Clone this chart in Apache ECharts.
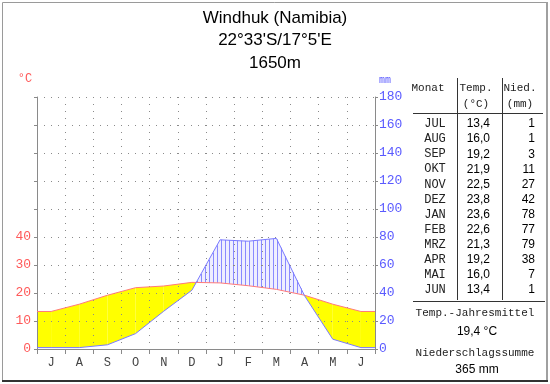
<!DOCTYPE html>
<html><head><meta charset="utf-8">
<script src="https://cdn.jsdelivr.net/npm/echarts@6/dist/echarts.min.js"></script>
<style>html,body{margin:0;padding:0;background:#fff}#c{width:550px;height:384px}</style>
</head><body><div id="c"></div>
<script>
// ---- data ----
const axisMonths = ['J','A','S','O','N','D','J','F','M','A','M','J'];
const tableMonths = ['JUL','AUG','SEP','OKT','NOV','DEZ','JAN','FEB','MRZ','APR','MAI','JUN'];
const temps = [13.4,16.0,19.2,21.9,22.5,23.8,23.6,22.6,21.3,19.2,16.0,13.4];
const precip = [1,1,3,11,27,42,78,77,79,38,7,1];
const tempTickLabels = [0,10,20,30,40];
const precipTickLabels = [0,20,40,60,80,100,120,140,160,180];
const titleLines = ['Windhuk (Namibia)', "22°33'S/17°5'E", '1650m'];

// ---- derived ----
const tempPts = [[0, temps[0]]].concat(temps.map((t,i)=>[i+0.5,t]), [[12, temps[11]]]);
const precPts = [[0, precip[0]]].concat(precip.map((p,i)=>[i+0.5,p]), [[12, precip[11]]]);
const fmt1 = v => v.toFixed(1).replace('.', ',');
const meanT = temps.reduce((a,b)=>a+b,0)/temps.length;
const sumP = precip.reduce((a,b)=>a+b,0);

const RED = '#ff5a5a', BLUE = '#5a5aff';
const MONO = '"Liberation Mono", monospace';
const SANS = '"Liberation Sans", Arial, sans-serif';

const chart = echarts.init(document.getElementById('c'), null, {renderer:'canvas'});

function fillItem(params, api){
  const i = params.dataIndex;
  const a = tempPts[i], b = tempPts[i+1], pa = precPts[i], pb = precPts[i+1];
  const T0 = api.coord([a[0], a[1]*2]), T1 = api.coord([b[0], b[1]*2]);
  const P0 = api.coord([pa[0], pa[1]]), P1 = api.coord([pb[0], pb[1]]);
  const d0 = a[1]*2 - pa[1], d1 = b[1]*2 - pb[1];
  const ch = [];
  const arid = pts => ch.push({type:'polygon', shape:{points:pts}, style:{fill:'#ffff00'}});
  const humid = (pL, pR, tL, tR) => {
    ch.push({type:'polygon', shape:{points:[pL, pR, tR, tL]}, style:{fill:'#eeeeff'}});
    const xL = pL[0], xR = pR[0];
    for (let px = Math.ceil(xL); px <= Math.floor(xR); px++) {
      if (px % 4 !== 1) continue;
      const t = (px - xL) / (xR - xL || 1);
      const yt = pL[1] + t*(pR[1]-pL[1]);
      const yb = tL[1] + t*(tR[1]-tL[1]);
      ch.push({type:'rect', shape:{x:px, y:yt, width:1, height:yb-yt}, style:{fill:'#8a8aff'}});
    }
  };
  if (d0 >= 0 && d1 >= 0) arid([T0, T1, P1, P0]);
  else if (d0 <= 0 && d1 <= 0) humid(P0, P1, T0, T1);
  else {
    const f = d0/(d0-d1);
    const C = [T0[0]+f*(T1[0]-T0[0]), T0[1]+f*(T1[1]-T0[1])];
    if (d0 > 0) { arid([T0, C, P0]); humid(C, P1, C, T1); }
    else { humid(P0, C, T0, C); arid([C, T1, P1]); }
  }
  return {type:'group', children: ch};
}

const dotted = {show:true, lineStyle:{color:'#8a8a8a', width:1, type:[1,6]}};

const graphics = [];
// frame
graphics.push({type:'line', shape:{x1:2.5,y1:2.5,x2:547,y2:2.5}, style:{stroke:'#9a9a9a', lineWidth:1}});
graphics.push({type:'line', shape:{x1:2.5,y1:2.5,x2:2.5,y2:381}, style:{stroke:'#9a9a9a', lineWidth:1}});
graphics.push({type:'line', shape:{x1:547,y1:2,x2:547,y2:382}, style:{stroke:'#a0a0a0', lineWidth:2}});
graphics.push({type:'line', shape:{x1:2,y1:381,x2:548,y2:381}, style:{stroke:'#333', lineWidth:2}});
// title
titleLines.forEach((t,i)=>graphics.push({type:'text', style:{text:t, x:275, y:18+i*22.5, textAlign:'center', textVerticalAlign:'middle', font:'17px '+SANS, fill:'#000'}}));
// axis unit names
graphics.push({type:'text', style:{text:'°C', x:25, y:79, textAlign:'center', textVerticalAlign:'middle', font:'12px '+MONO, fill:RED}});
graphics.push({type:'text', style:{text:'mm', x:385, y:80, textAlign:'center', textVerticalAlign:'middle', font:'10px '+MONO, fill:BLUE}});
// table
const tl = {stroke:'#333', lineWidth:1};
graphics.push({type:'line', shape:{x1:457.5,y1:78,x2:457.5,y2:300}, style:tl});
graphics.push({type:'line', shape:{x1:502.5,y1:78,x2:502.5,y2:300}, style:tl});
graphics.push({type:'line', shape:{x1:413,y1:113.5,x2:543,y2:113.5}, style:tl});
graphics.push({type:'line', shape:{x1:413,y1:301.5,x2:545,y2:301.5}, style:tl});
const hdr = (t,x,y)=>graphics.push({type:'text', style:{text:t, x:x, y:y, textAlign:'center', textVerticalAlign:'middle', font:'11px '+MONO, fill:'#222'}});
hdr('Monat',428,88); hdr('Temp.',476,88); hdr('(°C)',476,104); hdr('Nied.',520,88); hdr('(mm)',520,104);
tableMonths.forEach((m,i)=>{
  const y = 124 + i*15.1;
  graphics.push({type:'text', style:{text:m, x:435, y:y, textAlign:'center', textVerticalAlign:'middle', font:'12px '+MONO, fill:'#222'}});
  graphics.push({type:'text', style:{text:fmt1(temps[i]), x:490, y:y, textAlign:'right', textVerticalAlign:'middle', font:'12px '+SANS, fill:'#000'}});
  graphics.push({type:'text', style:{text:String(precip[i]), x:535, y:y, textAlign:'right', textVerticalAlign:'middle', font:'12px '+SANS, fill:'#000'}});
});
graphics.push({type:'text', style:{text:'Temp.-Jahresmittel', x:475, y:313, textAlign:'center', textVerticalAlign:'middle', font:'11px '+MONO, fill:'#222'}});
graphics.push({type:'text', style:{text:fmt1(meanT)+' °C', x:477, y:332, textAlign:'center', textVerticalAlign:'middle', font:'12px '+SANS, fill:'#000'}});
graphics.push({type:'text', style:{text:'Niederschlagssumme', x:475, y:353, textAlign:'center', textVerticalAlign:'middle', font:'11px '+MONO, fill:'#222'}});
graphics.push({type:'text', style:{text:sumP+' mm', x:477, y:370, textAlign:'center', textVerticalAlign:'middle', font:'12px '+SANS, fill:'#000'}});

chart.setOption({
  animation:false,
  backgroundColor:'#fff',
  grid:{left:37, right:175, top:97, bottom:35},
  xAxis:[
    {type:'value', min:0, max:12, interval:1, position:'bottom', z:3,
     axisLine:{show:true, lineStyle:{color:'#8a8a8a'}},
     axisTick:{show:true, length:5, lineStyle:{color:'#8a8a8a'}},
     axisLabel:{show:false}, splitLine:dotted},
    {type:'category', data:axisMonths, position:'bottom', boundaryGap:true,
     axisLine:{show:false}, axisTick:{show:false}, splitLine:{show:false},
     axisLabel:{margin:8, color:'#444', fontFamily:MONO, fontSize:12}}
  ],
  yAxis:[
    {type:'value', position:'left', min:0, max:90, interval:10, z:3,
     axisLine:{show:true, lineStyle:{color:'#8a8a8a'}},
     axisTick:{show:true, length:3, lineStyle:{color:'#8a8a8a'}},
     axisLabel:{margin:6, color:RED, fontFamily:MONO, fontSize:13,
       formatter: v => tempTickLabels.indexOf(v) >= 0 ? String(v) : ''},
     splitLine:dotted},
    {type:'value', position:'right', min:0, max:180, interval:20, z:3,
     axisLine:{show:true, lineStyle:{color:'#8a8a8a'}},
     axisTick:{show:true, length:3, lineStyle:{color:'#8a8a8a'}},
     axisLabel:{margin:4, color:BLUE, fontFamily:MONO, fontSize:13,
       formatter: v => precipTickLabels.indexOf(v) >= 0 ? String(v) : ''},
     splitLine:{show:false}}
  ],
  series:[
    {type:'custom', xAxisIndex:0, yAxisIndex:1, z:1,
     data: tempPts.slice(0,-1).map((p,i)=>[i]), renderItem: fillItem},
    {type:'line', xAxisIndex:0, yAxisIndex:0, data:tempPts, symbol:'none', z:5,
     lineStyle:{color:'#ff7a7a', width:1}},
    {type:'line', xAxisIndex:0, yAxisIndex:1, data:precPts, symbol:'none', z:6,
     lineStyle:{color:'#7a7aff', width:1}}
  ],
  graphic: graphics
});
</script></body></html>
